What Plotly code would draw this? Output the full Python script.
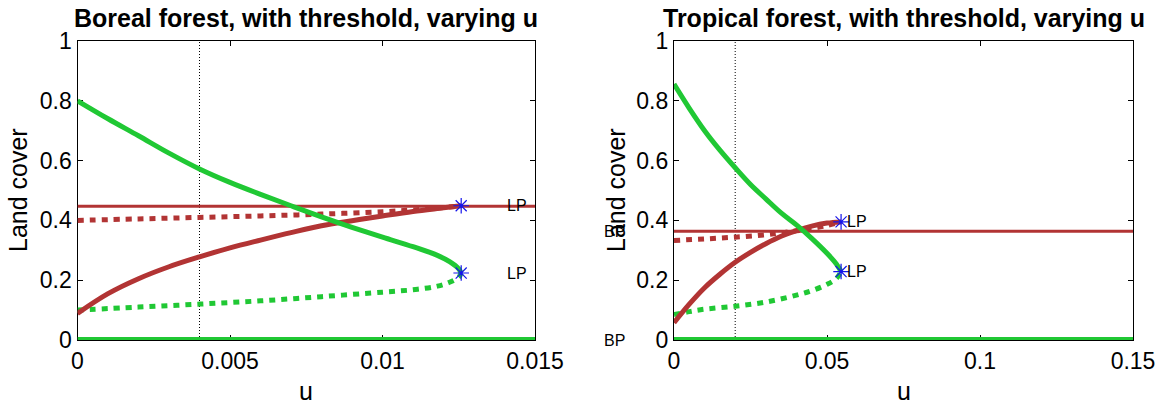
import plotly.graph_objects as go

# ---------------- data: Boreal forest (left) ----------------
bor_xrange = [0, 0.015]
bor_xticks = [0, 0.005, 0.01, 0.015]
bor_xticklabels = ["0", "0.005", "0.01", "0.015"]
bor_threshold_u = 0.004

bor_green_stable_u = [0, 0.001, 0.002, 0.003, 0.004, 0.005, 0.006, 0.007, 0.008, 0.009, 0.010, 0.011, 0.0118, 0.0122, 0.0125, 0.01258]
bor_green_stable_y = [0.80, 0.74, 0.683, 0.625, 0.572, 0.527, 0.487, 0.449, 0.412, 0.377, 0.344, 0.312, 0.283, 0.262, 0.238, 0.224]

bor_green_unstable_u = [0, 0.002, 0.004, 0.006, 0.008, 0.010, 0.011, 0.0118, 0.0122, 0.0125, 0.01258]
bor_green_unstable_y = [0.10, 0.11, 0.12, 0.131, 0.145, 0.160, 0.168, 0.180, 0.193, 0.210, 0.224]

bor_red_stable_u = [0, 0.001, 0.002, 0.003, 0.004, 0.005, 0.006, 0.007, 0.008, 0.009, 0.010, 0.011, 0.012, 0.01258]
bor_red_stable_y = [0.089, 0.155, 0.205, 0.245, 0.278, 0.308, 0.334, 0.359, 0.382, 0.399, 0.415, 0.430, 0.442, 0.449]

bor_red_unstable_u = [0, 0.002, 0.004, 0.006, 0.008, 0.010, 0.011, 0.012, 0.01258]
bor_red_unstable_y = [0.400, 0.405, 0.410, 0.415, 0.421, 0.429, 0.435, 0.443, 0.449]

bor_red_flat_y = 0.447
bor_lp_u = [0.01258, 0.01258]
bor_lp_y = [0.449, 0.224]
bor_lp_labels = ["LP", "LP"]

# ---------------- data: Tropical forest (right) ----------------
tro_xrange = [0, 0.15]
tro_xticks = [0, 0.05, 0.1, 0.15]
tro_xticklabels = ["0", "0.05", "0.1", "0.15"]
tro_threshold_u = 0.02

tro_green_stable_u = [0, 0.005, 0.01, 0.015, 0.02, 0.025, 0.03, 0.035, 0.04, 0.045, 0.05, 0.053, 0.0546]
tro_green_stable_y = [0.856, 0.775, 0.70, 0.635, 0.576, 0.52, 0.472, 0.425, 0.385, 0.34, 0.29, 0.255, 0.229]

tro_green_unstable_u = [0, 0.005, 0.01, 0.02, 0.03, 0.04, 0.045, 0.05, 0.053, 0.0546]
tro_green_unstable_y = [0.085, 0.095, 0.103, 0.113, 0.127, 0.150, 0.165, 0.186, 0.205, 0.229]

tro_red_stable_u = [0, 0.005, 0.01, 0.015, 0.02, 0.025, 0.03, 0.035, 0.04, 0.045, 0.05, 0.0546]
tro_red_stable_y = [0.058, 0.12, 0.175, 0.22, 0.26, 0.293, 0.322, 0.347, 0.366, 0.381, 0.391, 0.395]

tro_red_unstable_u = [0, 0.01, 0.02, 0.03, 0.035, 0.04, 0.045, 0.05, 0.0546]
tro_red_unstable_y = [0.333, 0.338, 0.344, 0.352, 0.358, 0.365, 0.373, 0.383, 0.395]

tro_red_flat_y = 0.364
tro_lp_u = [0.0546, 0.0546]
tro_lp_y = [0.395, 0.229]
tro_lp_labels = ["LP", "LP"]
tro_bp_u = [0, 0]
tro_bp_y = [0.0, 0.364]
tro_bp_labels = ["BP", "BP"]

yticks = [0, 0.2, 0.4, 0.6, 0.8, 1]
yticklabels = ["0", "0.2", "0.4", "0.6", "0.8", "1"]
titles = ["Boreal forest, with threshold, varying u", "Tropical forest, with threshold, varying u"]
xlabel = "u"
ylabel = "Land cover"

# ---------------- styles ----------------
RED = "rgb(178,52,52)"
GREEN = "rgb(32,200,52)"
BLUE = "rgb(20,20,235)"
FONT = "Liberation Sans, Arial, Helvetica, sans-serif"
W, H = 1161, 407
THICK = 5
DOTDASH = "6px,6px"

fig = go.Figure()


def add_panel(xa, ya, xr, thr, gs, gu, rs, ru, flat_y, lp_u, lp_y, lp_lab, lp_shift):
    kw = dict(xaxis=xa, yaxis=ya, mode="lines", hoverinfo="skip", showlegend=False)
    fig.add_trace(go.Scatter(x=[thr, thr], y=[0, 1], line=dict(color="black", width=1, dash="1px,2px"), **kw))
    fig.add_trace(go.Scatter(x=xr, y=[0, 0], line=dict(color=GREEN, width=6), **kw))
    fig.add_trace(go.Scatter(x=xr, y=[flat_y, flat_y], line=dict(color=RED, width=3), **kw))
    fig.add_trace(go.Scatter(x=ru[0], y=ru[1], line=dict(color=RED, width=THICK, dash=DOTDASH, shape="spline"), **kw))
    fig.add_trace(go.Scatter(x=gu[0], y=gu[1], line=dict(color=GREEN, width=THICK, dash=DOTDASH, shape="spline"), **kw))
    fig.add_trace(go.Scatter(x=rs[0], y=rs[1], line=dict(color=RED, width=THICK, shape="spline"), **kw))
    fig.add_trace(go.Scatter(x=gs[0], y=gs[1], line=dict(color=GREEN, width=THICK, shape="spline"), **kw))
    fig.add_trace(go.Scatter(x=lp_u, y=lp_y, mode="markers", xaxis=xa, yaxis=ya, hoverinfo="skip", showlegend=False,
                             marker=dict(symbol="asterisk-open", size=13, color=BLUE, line=dict(color=BLUE, width=1.2))))
    for u, y, t in zip(lp_u, lp_y, lp_lab):
        fig.add_annotation(x=u, y=y, xref=xa, yref=ya, text=t, showarrow=False, xanchor="left", yanchor="middle",
                           xshift=lp_shift, font=dict(family=FONT, size=16, color="black"))


add_panel("x", "y", bor_xrange, bor_threshold_u,
          (bor_green_stable_u, bor_green_stable_y), (bor_green_unstable_u, bor_green_unstable_y),
          (bor_red_stable_u, bor_red_stable_y), (bor_red_unstable_u, bor_red_unstable_y),
          bor_red_flat_y, bor_lp_u, bor_lp_y, bor_lp_labels, 44)
add_panel("x2", "y2", tro_xrange, tro_threshold_u,
          (tro_green_stable_u, tro_green_stable_y), (tro_green_unstable_u, tro_green_unstable_y),
          (tro_red_stable_u, tro_red_stable_y), (tro_red_unstable_u, tro_red_unstable_y),
          tro_red_flat_y, tro_lp_u, tro_lp_y, tro_lp_labels, 4)

for u, y, t in zip(tro_bp_u, tro_bp_y, tro_bp_labels):
    fig.add_annotation(x=u, y=y, xref="x2", yref="y2", text=t, showarrow=False, xanchor="center", yanchor="middle",
                       xshift=-60, font=dict(family=FONT, size=16, color="black"))

# layout geometry (pixels)
L1, R1 = 77.5, 535
L2, R2 = 674, 1133
T, B = 41, 340

axis_common = dict(showline=True, linecolor="black", linewidth=1.3, mirror="ticks", ticks="inside", ticklen=5,
                   tickcolor="black", tickwidth=1, showgrid=False, zeroline=False, layer="below traces",
                   automargin=False, tickfont=dict(family=FONT, size=23, color="black"))

fig.update_layout(
    width=W, height=H, margin=dict(l=0, r=0, t=0, b=0, pad=0, autoexpand=False),
    paper_bgcolor="white", plot_bgcolor="white",
    xaxis=dict(domain=[L1 / W, R1 / W], range=bor_xrange, tickvals=bor_xticks, ticktext=bor_xticklabels,
               anchor="y", **axis_common),
    yaxis=dict(domain=[1 - B / H, 1 - T / H], range=[0, 1], tickvals=yticks, ticktext=yticklabels,
               anchor="x", **axis_common),
    xaxis2=dict(domain=[L2 / W, R2 / W], range=tro_xrange, tickvals=tro_xticks, ticktext=tro_xticklabels,
                anchor="y2", **axis_common),
    yaxis2=dict(domain=[1 - B / H, 1 - T / H], range=[0, 1], tickvals=yticks, ticktext=yticklabels,
                anchor="x2", **axis_common),
)

for cx, t in zip([(L1 + R1) / 2, (L2 + R2) / 2], titles):
    fig.add_annotation(x=cx / W, y=1 - 18 / H, xref="paper", yref="paper", text="<b>" + t + "</b>",
                       showarrow=False, xanchor="center", yanchor="middle",
                       font=dict(family=FONT, size=25, color="black"))
    fig.add_annotation(x=cx / W, y=1 - 391 / H, xref="paper", yref="paper", text=xlabel,
                       showarrow=False, xanchor="center", yanchor="middle",
                       font=dict(family=FONT, size=25, color="black"))
for lx in [18, 616]:
    fig.add_annotation(x=lx / W, y=1 - 190 / H, xref="paper", yref="paper", text=ylabel, textangle=-90,
                       showarrow=False, xanchor="center", yanchor="middle",
                       font=dict(family=FONT, size=25, color="black"))

fig.write_html("out.html")
